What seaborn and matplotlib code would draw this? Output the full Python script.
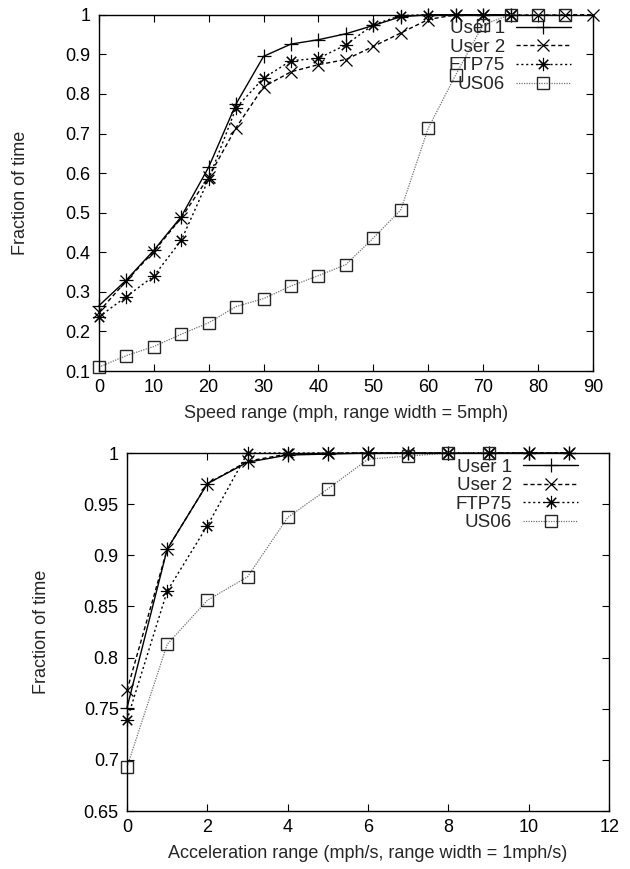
import matplotlib as mpl
mpl.use('Agg')
import matplotlib.pyplot as plt
from matplotlib.ticker import MultipleLocator, FormatStrFormatter
import seaborn as sns

# speed range distribution (top)
speed_user1_x = [0, 5, 10, 15, 20, 25, 30, 35, 40, 45, 50, 55, 60, 65, 70, 75]
speed_user1 = [0.265, 0.33, 0.405, 0.49, 0.615, 0.775, 0.895, 0.926, 0.937, 0.952,
               0.973, 0.995, 1.0, 1.0, 1.0, 1.0]
speed_user2_x = [0, 5, 10, 15, 20, 25, 30, 35, 40, 45, 50, 55, 60, 65, 70, 75, 80, 85, 90]
speed_user2 = [0.25, 0.328, 0.402, 0.487, 0.59, 0.715, 0.818, 0.856, 0.874, 0.887,
               0.92, 0.954, 0.988, 1.0, 1.0, 1.0, 1.0, 1.0, 1.0]
speed_ftp75_x = [0, 5, 10, 15, 20, 25, 30, 35, 40, 45, 50, 55, 60, 65, 70, 75]
speed_ftp75 = [0.237, 0.288, 0.34, 0.43, 0.585, 0.765, 0.84, 0.884, 0.89, 0.924,
               0.975, 0.998, 1.0, 1.0, 1.0, 1.0]
speed_us06_x = [0, 5, 10, 15, 20, 25, 30, 35, 40, 45, 50, 55, 60, 65, 70, 75, 80, 85]
speed_us06 = [0.11, 0.139, 0.162, 0.193, 0.222, 0.263, 0.283, 0.315, 0.341, 0.369,
              0.436, 0.507, 0.713, 0.848, 0.975, 1.0, 1.0, 1.0]

# acceleration range distribution (bottom)
acc_x = [0, 1, 2, 3, 4, 5, 6, 7, 8, 9, 10, 11]
acc_user1 = [0.751, 0.906, 0.970, 0.991, 0.998, 0.999, 1.0, 1.0, 1.0, 1.0, 1.0, 1.0]
acc_user2 = [0.768, 0.906, 0.970, 0.992, 0.999, 1.0, 1.0, 1.0, 1.0, 1.0, 1.0, 1.0]
acc_ftp75 = [0.739, 0.865, 0.929, 1.0, 1.0, 1.0, 1.0, 1.0, 1.0, 1.0, 1.0, 1.0]
acc_us06_x = [0, 1, 2, 3, 4, 5, 6, 7, 8, 9]
acc_us06 = [0.693, 0.813, 0.856, 0.879, 0.937, 0.965, 0.994, 0.997, 1.0, 1.0]

labels = ['User 1', 'User 2', 'FTP75', 'US06']

sns.set_style('ticks')
plt.rcParams['font.family'] = ['Liberation Sans', 'DejaVu Sans']
plt.rcParams['font.size'] = 13

styles = [
    dict(color='black', linestyle='-', linewidth=1.0, marker='+', markersize=10,
         markeredgecolor='black', markeredgewidth=0.9),
    dict(color='black', linestyle=(0, (3, 2)), linewidth=1.0, marker='x', markersize=8,
         markeredgecolor='black', markeredgewidth=0.9),
    dict(color='black', linestyle=(0, (1.5, 2)), linewidth=1.0, marker=(8, 2, 0), markersize=9.5,
         markeredgecolor='black', markeredgewidth=0.8),
    dict(color='0.45', linestyle=(0, (1, 1)), linewidth=0.9, marker='s', markersize=8,
         markerfacecolor='none', markeredgecolor='0.15', markeredgewidth=1.0),
]


def style_axes(ax):
    for s in ax.spines.values():
        s.set_linewidth(1.0)
        s.set_color('black')
    ax.tick_params(direction='in', top=True, right=True, length=5, width=0.8,
                   labelsize=13, colors='black', pad=6)


fig = plt.figure(figsize=(6.3, 8.69), dpi=100)
ax1 = fig.add_axes([0.157, 0.573, 0.784, 0.410])
ax2 = fig.add_axes([0.2016, 0.0667, 0.7654, 0.412])

series_top = [(speed_user1_x, speed_user1), (speed_user2_x, speed_user2),
              (speed_ftp75_x, speed_ftp75), (speed_us06_x, speed_us06)]
for (xs, ys), lab, st in zip(series_top, labels, styles):
    sns.lineplot(x=xs, y=ys, ax=ax1, label=lab, **st)

ax1.set_xlim(0, 90)
ax1.set_ylim(0.1, 1.0)
ax1.xaxis.set_major_locator(MultipleLocator(10))
ax1.yaxis.set_major_locator(MultipleLocator(0.1))
ax1.yaxis.set_major_formatter(FormatStrFormatter('%g'))
ax1.set_xlabel('Speed range (mph, range width = 5mph)', fontsize=13, labelpad=6)
ax1.set_ylabel('Fraction of time', fontsize=13, labelpad=26)
style_axes(ax1)
ax1.legend(loc='upper right', bbox_to_anchor=(0.955, 0.985), frameon=False,
           markerfirst=False, borderpad=0, borderaxespad=0, handlelength=2.9,
           handletextpad=0.6, labelspacing=0.08, fontsize=13.5)

series_bot = [(acc_x, acc_user1), (acc_x, acc_user2), (acc_x, acc_ftp75), (acc_us06_x, acc_us06)]
for (xs, ys), lab, st in zip(series_bot, labels, styles):
    sns.lineplot(x=xs, y=ys, ax=ax2, label=lab, **st)

ax2.set_xlim(0, 12)
ax2.set_ylim(0.65, 1.0)
ax2.xaxis.set_major_locator(MultipleLocator(2))
ax2.yaxis.set_major_locator(MultipleLocator(0.05))
ax2.yaxis.set_major_formatter(FormatStrFormatter('%g'))
ax2.set_xlabel('Acceleration range (mph/s, range width = 1mph/s)', fontsize=13, labelpad=6)
ax2.set_ylabel('Fraction of time', fontsize=13, labelpad=24)
style_axes(ax2)
ax2.legend(loc='upper right', bbox_to_anchor=(0.935, 0.985), frameon=False,
           markerfirst=False, borderpad=0, borderaxespad=0, handlelength=2.9,
           handletextpad=0.6, labelspacing=0.08, fontsize=13.5)

for ax in (ax1, ax2):
    for line in ax.get_lines():
        line.set_clip_on(False)

fig.savefig('out.png', dpi=100)
